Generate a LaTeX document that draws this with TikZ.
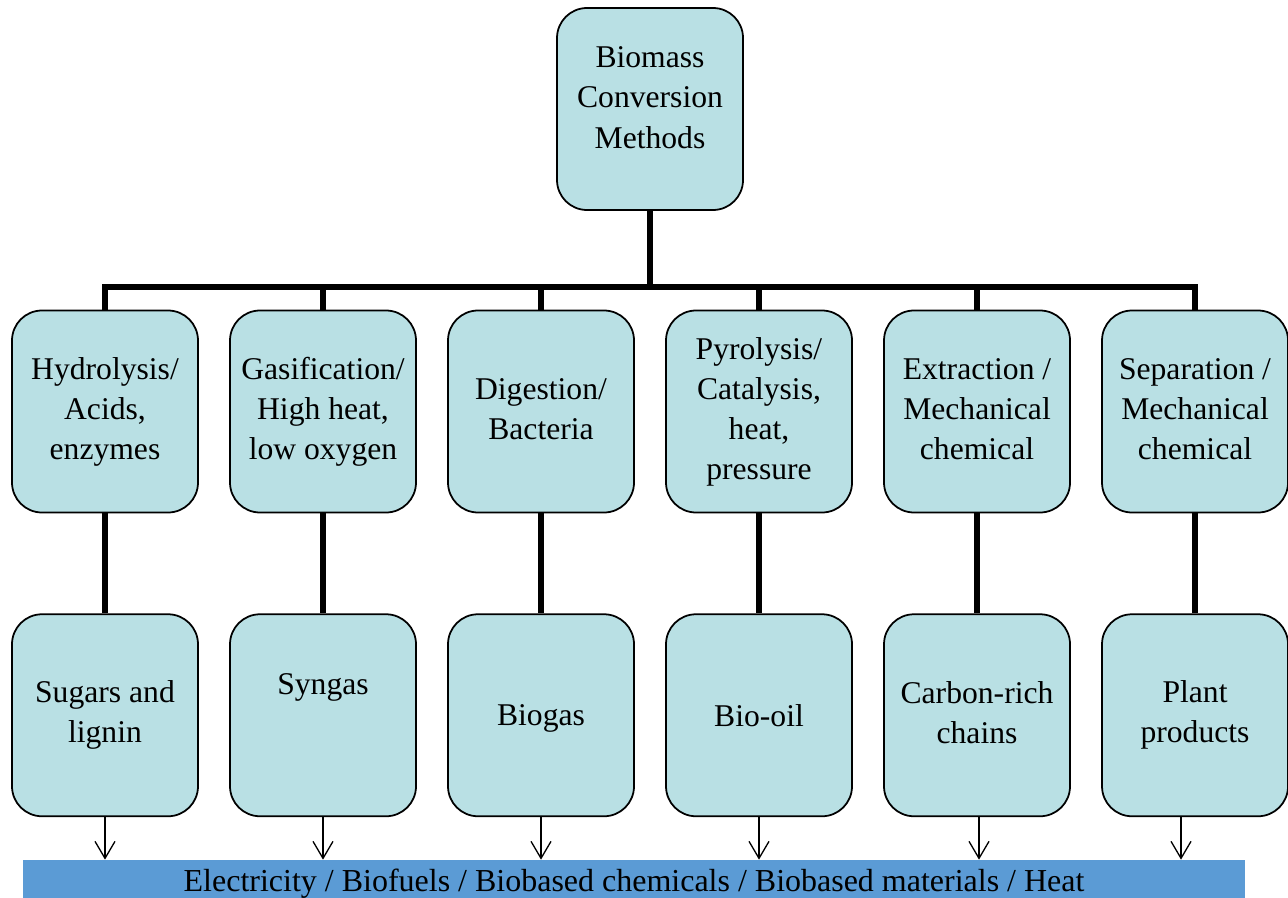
\documentclass[tikz,border=0pt]{standalone}
\usepackage{fontspec}
\setmainfont{Liberation Serif}
\usetikzlibrary{positioning, arrows.meta}
\definecolor{boxfill}{RGB}{185,224,228}
\definecolor{barblue}{RGB}{91,155,213}
\newcommand{\lnstrut}{\rule[-3.3pt]{0pt}{19.3pt}}

\begin{document}
\begin{tikzpicture}[
  box/.style={draw, line width=1pt, rectangle, rounded corners=0.6cm, fill=boxfill,
    minimum width=3.72cm, minimum height=4.04cm, align=center,
    font=\fontsize{18}{22.8}\selectfont,
    execute at begin node=\lnstrut, execute at end node=\lnstrut},
  link/.style={line width=3pt},
  arrow/.style={-{Straight Barb[length=0.34cm, width=0.4cm]}, line width=0.75pt},
  outbar/.style={fill=barblue, minimum width=24.44cm, minimum height=0.96cm,
    inner sep=0pt, font=\fontsize{18.2}{22.8}\selectfont}
]
\useasboundingbox (0,0) rectangle (25.76,17.94);

% Root
\node[box, text depth=0.46cm] (root) at (13.0,15.76) {Biomass\\Conversion\\Methods};

% Conversion methods
\node[box] (m1) at (2.1,9.71) {Hydrolysis/\\Acids,\\enzymes};
\node[box] (m2) at (6.46,9.71) {Gasification/\\High heat,\\low oxygen};
\node[box] (m3) at (10.82,9.71) {Digestion/\\Bacteria};
\node[box] (m4) at (15.18,9.71) {Pyrolysis/\\Catalysis,\\heat,\\pressure};
\node[box] (m5) at (19.54,9.71) {Extraction /\\Mechanical\\chemical};
\node[box] (m6) at (23.9,9.71) {Separation /\\Mechanical\\chemical};

% Products
\node[box, below=2.0cm of m1] (p1) {Sugars and\\lignin};
\node[box, below=2.0cm of m2, text depth=1.39cm] (p2) {Syngas};
\node[box, below=2.0cm of m3] (p3) {Biogas};
\node[box, below=2.0cm of m4] (p4) {Bio-oil};
\node[box, below=2.0cm of m5] (p5) {Carbon-rich\\chains};
\node[box, below=2.0cm of m6] (p6) {Plant\\products};

% Uses
\node[outbar] (uses) at (12.68,0.26) {Electricity / Biofuels / Biobased chemicals / Biobased materials / Heat};

% Tree links
\coordinate (bus) at (13.0,12.2);
\draw[link] (root.south) -- (bus);
\draw[link] (bus) -| (m1.north);
\draw[link] (bus) -| (m2.north);
\draw[link] (bus) -| (m3.north);
\draw[link] (bus) -| (m4.north);
\draw[link] (bus) -| (m5.north);
\draw[link] (bus) -| (m6.north);

% Method to product
\draw[link] (m1) -- (p1);
\draw[link] (m2) -- (p2);
\draw[link] (m3) -- (p3);
\draw[link] (m4) -- (p4);
\draw[link] (m5) -- (p5);
\draw[link] (m6) -- (p6);

% Products to uses
\draw[arrow] (p1.south) -- (p1.south |- uses.north);
\draw[arrow] (p2.south) -- (p2.south |- uses.north);
\draw[arrow] (p3.south) -- (p3.south |- uses.north);
\draw[arrow] (p4.south) -- (p4.south |- uses.north);
\draw[arrow] ([xshift=0.04cm]p5.south) -- ([xshift=0.04cm]p5.south |- uses.north);
\draw[arrow] ([xshift=-0.28cm]p6.south) -- ([xshift=-0.28cm]p6.south |- uses.north);

\end{tikzpicture}
\end{document}
